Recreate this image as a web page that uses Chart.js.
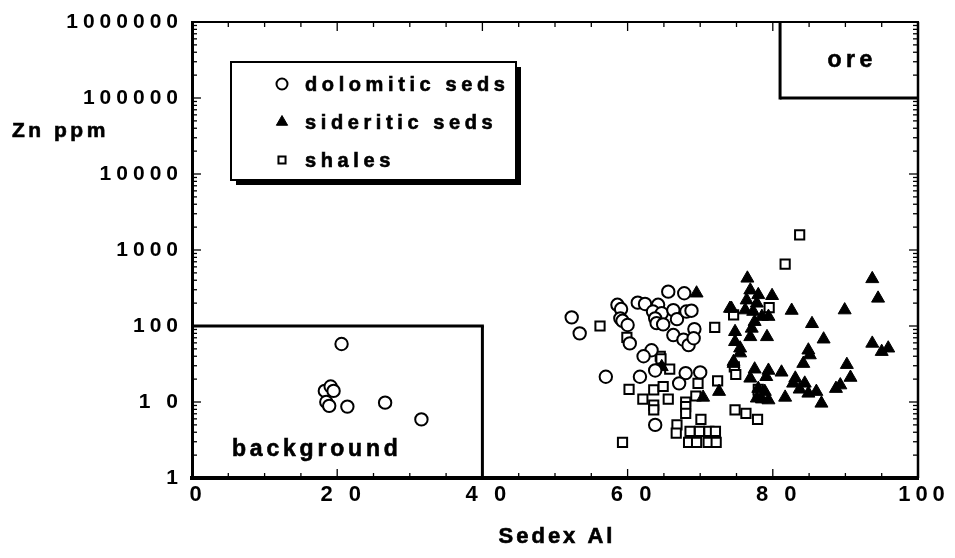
<!DOCTYPE html>
<html>
<head>
<meta charset="utf-8">
<script src="https://cdn.jsdelivr.net/npm/chart.js@4.4.1/dist/chart.umd.min.js"></script>
<style>
  html, body { margin: 0; padding: 0; background: #fff; }
  #chart { display: block; }
</style>
</head>
<body>
<canvas id="chart" width="955" height="558"></canvas>
<script>
const seriesNames = ['dolomitic seds', 'sideritic seds', 'shales'];

// [Sedex AI, Zn ppm]
const dolomitic = [
  [20.6, 58], [18.3, 14], [19.1, 16], [19.5, 14], [18.5, 10], [18.9, 8.9], [21.4, 8.7], [26.6, 9.8], [31.6, 5.9],
  [52.3, 130], [53.4, 80], [58.6, 190], [59.1, 167], [59.0, 126], [59.3, 117], [60.0, 103], [60.3, 59],
  [61.4, 203], [62.4, 195], [64.2, 190], [65.6, 283], [67.8, 270], [63.5, 155], [64.7, 147], [63.8, 126],
  [64.0, 109], [64.9, 105], [66.3, 162], [66.8, 123], [68.1, 155], [68.8, 159], [69.2, 91], [66.3, 76],
  [67.7, 66], [68.4, 56], [69.1, 69], [63.3, 48], [62.2, 40], [57.0, 21.5], [63.8, 26], [61.7, 21.5],
  [68.0, 24], [70.0, 24.5], [67.1, 17.6], [63.8, 5.0]
];
const sideritic = [
  [69.5, 270], [74.1, 170], [70.4, 11.5], [72.6, 13.7], [64.7, 29], [74.6, 32],
  [76.5, 424], [76.9, 296], [78.0, 257], [79.9, 250], [74.3, 170], [76.4, 219], [77.8, 199], [76.2, 162],
  [77.3, 155], [79.4, 133], [78.5, 133], [82.6, 160], [85.4, 107], [89.9, 162], [93.7, 417], [94.5, 231],
  [74.8, 84], [77.1, 93], [77.5, 114], [76.9, 72], [79.2, 72], [74.8, 62], [75.5, 51], [87.0, 67],
  [93.7, 59], [95.0, 46], [95.9, 51], [84.9, 48],
  [75.5, 44], [74.6, 34], [77.5, 27], [79.4, 26], [76.9, 20.5], [79.1, 21.5], [81.2, 24.6], [85.1, 41.5],
  [84.2, 32], [90.2, 31], [90.7, 21], [89.3, 16.7], [88.7, 15], [83.1, 20.5], [82.8, 17.6], [84.4, 17.6],
  [83.7, 14.7], [84.9, 13], [86.0, 13.7], [86.7, 9.6], [81.7, 11.5], [78.0, 15], [78.9, 13.7], [79.4, 10.6],
  [78.5, 10.9], [77.8, 11.2]
];
const shales = [
  [56.2, 100], [59.9, 71], [72.0, 96], [74.6, 140], [64.5, 40],
  [64.6, 37], [65.8, 27], [60.2, 14.7], [63.6, 14.4], [64.9, 16], [62.1, 10.9], [65.6, 10.9], [63.6, 9.1],
  [63.6, 7.9], [68.0, 10], [68.0, 8.7], [68.0, 7.1], [69.7, 17.6], [69.4, 12], [72.4, 19], [74.7, 29],
  [74.9, 23], [74.8, 7.9], [70.1, 5.9], [66.8, 5.0], [66.7, 3.9], [68.6, 4.1], [69.9, 4.1], [71.2, 4.1],
  [72.1, 4.1], [68.4, 2.95], [69.5, 2.95], [71.1, 2.95], [72.2, 2.95], [59.3, 2.95],
  [83.7, 1580], [81.7, 650], [79.5, 174], [78.0, 14.7], [78.0, 12], [76.3, 7.1], [77.9, 5.9]
];

const xTicks = [0, 20, 40, 60, 80, 100];
const xTickLabels = ['0', '2 0', '4 0', '6 0', '8 0', '100'];
const yTicks = [1, 10, 100, 1000, 10000, 100000, 1000000];
const yTickLabels = ['1', '1 0', '100', '1000', '10000', '100000', '1000000'];
const xTitle = 'Sedex Al';
const yTitle = 'Zn ppm';

// fields: [x from, x to, y from, y to]
const backgroundField = [0, 40, 1, 100];
const oreField = [81, 100, 100000, 1000000];
const fieldNames = ['background', 'ore'];

const FONT = "'Liberation Sans', Arial, Helvetica, sans-serif";

const toPoints = arr => arr.map(([x, y]) => ({ x, y }));

const styles = [
  { pointStyle: 'circle', radius: 6.2, backgroundColor: '#fff', borderColor: '#000', borderWidth: 2 },
  { pointStyle: 'triangle', radius: 7.5, backgroundColor: '#000', borderColor: '#000', borderWidth: 1 },
  { pointStyle: 'rect', radius: 6.5, backgroundColor: '#fff', borderColor: '#000', borderWidth: 2 }
];

function seg(ctx, x1, y1, x2, y2, w) {
  ctx.lineWidth = w;
  ctx.beginPath();
  ctx.moveTo(x1, y1);
  ctx.lineTo(x2, y2);
  ctx.stroke();
}

// bold text with a hairline stroke so it reads as heavy as the axis digits
function spacedText(ctx, text, x, y, size, spacing, align) {
  ctx.font = `bold ${size}px ${FONT}`;
  ctx.letterSpacing = spacing + 'px';
  ctx.textAlign = align || 'left';
  ctx.textBaseline = 'alphabetic';
  ctx.fillText(text, x, y);
  ctx.lineWidth = 0.6;
  ctx.strokeText(text, x, y);
}

const decorations = {
  id: 'decorations',
  beforeDraw(chart) {
    // spaced out tick digits
    chart.ctx.letterSpacing = '5px';
  },
  afterDraw(chart) {
    const { ctx, chartArea: a, scales: { x, y } } = chart;
    ctx.save();
    ctx.strokeStyle = '#000';
    ctx.fillStyle = '#000';

    // top and right edges of the frame
    seg(ctx, a.left, a.top, a.right + 1, a.top, 2);
    seg(ctx, a.right, a.top, a.right, a.bottom, 2.5);

    // inward ticks, log minors on both vertical sides
    for (let d = 1; d <= 1000000; d *= 10) {
      for (let k = 1; k <= 9; k++) {
        const v = d * k;
        if (v > 1000000) break;
        const py = y.getPixelForValue(v);
        const len = k === 1 ? 9 : 5;
        seg(ctx, a.left, py, a.left + len, py, 1.3);
        seg(ctx, a.right - len, py, a.right, py, 1.3);
      }
    }
    for (let v = 0; v <= 100; v += 5) {
      const px = x.getPixelForValue(v);
      const len = v % 20 === 0 ? 9 : 5;
      seg(ctx, px, a.bottom, px, a.bottom - len, 1.3);
      seg(ctx, px, a.top, px, a.top + len, 1.3);
    }

    // background field
    const bx2 = x.getPixelForValue(backgroundField[1]);
    const by2 = y.getPixelForValue(backgroundField[3]);
    seg(ctx, a.left, by2, bx2 + 1.5, by2, 3);
    seg(ctx, bx2, by2, bx2, a.bottom, 3);
    spacedText(ctx, fieldNames[0], x.getPixelForValue(backgroundField[0]) + 40, y.getPixelForValue(backgroundField[2]) - 22, 23, 3.8);

    // ore field
    const ox1 = x.getPixelForValue(oreField[0]);
    const oy1 = y.getPixelForValue(oreField[2]);
    seg(ctx, ox1, a.top, ox1, oy1 + 1.5, 3);
    seg(ctx, ox1, oy1, a.right, oy1, 3);
    spacedText(ctx, fieldNames[1], (ox1 + a.right) / 2 + 3, (a.top + oy1) / 2 + 7, 23, 4.5, 'center');

    // axis titles
    spacedText(ctx, yTitle, 12, 137, 21, 3.5);
    spacedText(ctx, xTitle, (a.left + a.right) / 2 + 2, 543, 22, 3, 'center');

    // legend box with drop shadow
    const L = 231, T = 62, W = 285, H = 118;
    ctx.fillRect(L + 5, T + 5, W, H);
    ctx.fillStyle = '#fff';
    ctx.fillRect(L, T, W, H);
    ctx.lineWidth = 2;
    ctx.strokeRect(L, T, W, H);
    const legendSizes = [5.5, 6.5, 5];
    seriesNames.forEach((name, i) => {
      const cy = T + 22 + i * 38;
      const s = styles[i];
      ctx.fillStyle = s.backgroundColor;
      ctx.strokeStyle = s.borderColor;
      ctx.lineWidth = s.borderWidth;
      Chart.helpers.drawPoint(ctx, {
        pointStyle: s.pointStyle, radius: legendSizes[i], borderWidth: 1.6, rotation: 0
      }, 282, cy);
      ctx.fillStyle = '#000';
      ctx.strokeStyle = '#000';
      spacedText(ctx, name, 305, cy + 7, 20, 4.6);
    });

    ctx.restore();
    ctx.letterSpacing = '0px';
  }
};

new Chart(document.getElementById('chart'), {
  type: 'scatter',
  data: {
    datasets: [dolomitic, sideritic, shales].map((arr, i) => ({
      label: seriesNames[i],
      data: toPoints(arr),
      pointStyle: styles[i].pointStyle,
      pointRadius: styles[i].radius,
      pointBackgroundColor: styles[i].backgroundColor,
      pointBorderColor: styles[i].borderColor,
      pointBorderWidth: styles[i].borderWidth,
      showLine: false
    }))
  },
  options: {
    responsive: false,
    animation: false,
    devicePixelRatio: 1,
    layout: { padding: { top: 22, right: 37, left: 0, bottom: 0 } },
    plugins: { legend: { display: false }, tooltip: { enabled: false } },
    scales: {
      x: {
        type: 'linear',
        min: 0,
        max: 100,
        afterFit: s => { s.height = 80; },
        afterBuildTicks: s => { s.ticks = xTicks.map(v => ({ value: v })); },
        grid: { display: false, drawTicks: false },
        border: { display: true, width: 4, color: '#000' },
        ticks: {
          callback: (v, i) => xTickLabels[i],
          font: { family: FONT, size: 22, weight: 'bold' },
          color: '#000',
          padding: 4,
          labelOffset: 6,
          maxRotation: 0,
          autoSkip: false
        }
      },
      y: {
        type: 'logarithmic',
        min: 1,
        max: 1000000,
        afterFit: s => { s.width = 192; },
        afterBuildTicks: s => { s.ticks = yTicks.map(v => ({ value: v })); },
        grid: { display: false, drawTicks: false },
        border: { display: true, width: 3, color: '#000' },
        ticks: {
          callback: (v, i) => yTickLabels[i],
          font: { family: FONT, size: 21, weight: 'bold' },
          color: '#000',
          padding: 9,
          autoSkip: false
        }
      }
    }
  },
  plugins: [decorations]
});
</script>
</body>
</html>
